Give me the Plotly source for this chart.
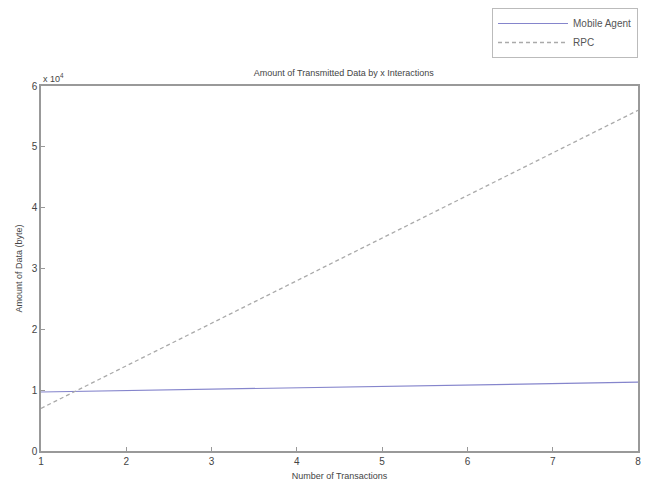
import plotly.graph_objects as go

transactions = [1, 2, 3, 4, 5, 6, 7, 8]
mobile_agent = [9700, 9930, 10160, 10390, 10620, 10850, 11080, 11310]
rpc = [7000, 14000, 21000, 28000, 35000, 42000, 49000, 56000]
y_tick_vals = [0, 10000, 20000, 30000, 40000, 50000, 60000]
y_tick_text = ["0", "1", "2", "3", "4", "5", "6"]

font = dict(family="Liberation Sans, Arial, sans-serif", size=10, color="#444")
axcol = "#999"

fig = go.Figure()
fig.add_trace(go.Scatter(x=transactions, y=mobile_agent, mode="lines", name="Mobile Agent",
                         line=dict(color="#8585cc", width=1.2)))
fig.add_trace(go.Scatter(x=transactions, y=rpc, mode="lines", name="RPC",
                         line=dict(color="#aaaaaa", width=1.3, dash="4px,3px")))

fig.update_layout(
    width=652, height=486,
    margin=dict(l=33, r=22, t=78, b=43, autoexpand=False),
    paper_bgcolor="white", plot_bgcolor="white",
    font=font,
    title=dict(text="Amount of Transmitted Data by x Interactions", x=0.515, xanchor="center",
               y=1 - 65/486, yanchor="middle", font=dict(size=9, color="#444")),
    showlegend=True,
    legend=dict(x=1.0, xanchor="right", yref="container", y=1, yanchor="top",
                bordercolor="#bbb", borderwidth=1, bgcolor="white",
                font=dict(size=10, color="#555"), tracegroupgap=0, itemwidth=70,
                traceorder="normal"),
    xaxis=dict(range=[1, 8], tickvals=transactions, ticks="inside", ticklen=4, tickcolor=axcol,
               showline=True, linecolor=axcol, linewidth=1.5, mirror=True, showgrid=False,
               zeroline=False, title=dict(text="Number of Transactions", standoff=7,
                                          font=dict(size=9, color="#444"))),
    yaxis=dict(range=[0, 60000], tickvals=y_tick_vals, ticktext=y_tick_text, ticks="inside",
               ticklen=4, tickcolor=axcol, showline=True, linecolor=axcol, linewidth=1.5,
               mirror=True, showgrid=False, zeroline=False,
               title=dict(text="Amount of Data (byte)", standoff=8, font=dict(size=9, color="#444"))),
)
fig.add_annotation(xref="paper", yref="paper", x=0.0, y=1.0, xanchor="left", yanchor="bottom",
                   text="x 10<sup>4</sup>", showarrow=False, font=dict(size=9, color="#444"))
fig.write_html("out.html")
